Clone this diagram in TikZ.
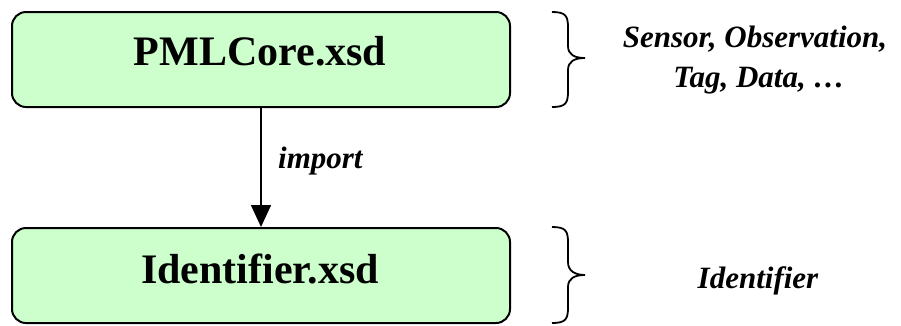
\documentclass[tikz,border=0pt]{standalone}
\usepackage{fontspec}
\setmainfont{Liberation Serif}
\usetikzlibrary{arrows.meta}
\begin{document}
\begin{tikzpicture}[x=1pt,y=-1pt,
  xsdbox/.style={draw=black,line width=2pt,fill=boxgreen,rounded corners=14pt,
    minimum width=498pt,minimum height=95pt,inner sep=0pt,anchor=north west},
  bigtext/.style={font=\fontsize{42}{50}\selectfont\bfseries,anchor=base,inner sep=0pt},
  ittext/.style={font=\fontsize{31}{38}\selectfont\bfseries\itshape,anchor=base,inner sep=0pt},
  bracepath/.style={draw=black,line width=1.8pt}]
\definecolor{boxgreen}{HTML}{CCFFCC}
\useasboundingbox (0,0) rectangle (901,325);
\node[xsdbox] (core) at (11,11) {};
\node[xsdbox] (ident) at (11,227) {};
\node[bigtext] (coretxt) at (260,65) {PMLCore.xsd};
\node[bigtext] (identtxt) at (260,283) {Identifier.xsd};
\draw[line width=1.6pt,-{Triangle[length=22pt,width=20pt]}] (core.south) -- (ident.north);
\node[ittext,anchor=base west] (imp) at (278,168) {import};
\node[ittext] (s1) at (755,47) {Sensor, Observation,};
\node[ittext] (s2) at (759,87) {Tag, Data, …};
\node[ittext] (s3) at (758,288) {Identifier};
\coordinate (b1) at (552,12);
\coordinate (b2) at (552,227);
\draw[bracepath] (b1) .. controls (566,12) and (568,16) .. (568,28) -- (568,46)
  .. controls (568,55) and (575,58) .. (585,58)
  .. controls (575,58) and (568,61) .. (568,70) -- (568,91)
  .. controls (568,103) and (566,107) .. (552,107);
\draw[bracepath] (b2) .. controls (566,227) and (568,231) .. (568,243) -- (568,262)
  .. controls (568,271) and (575,275) .. (585,275)
  .. controls (575,275) and (568,278) .. (568,287) -- (568,307)
  .. controls (568,319) and (566,323) .. (552,323);
\end{tikzpicture}
\end{document}
